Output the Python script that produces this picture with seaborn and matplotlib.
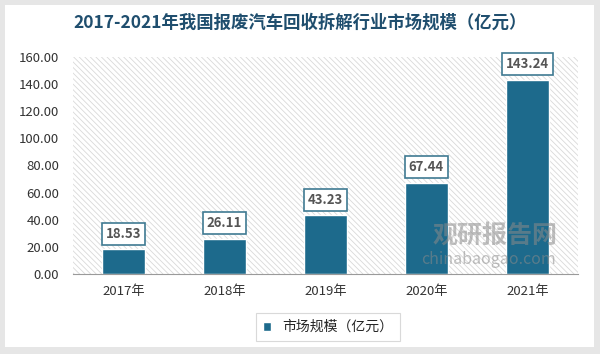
"""2017-2021 scrapped-car recycling market size bar chart."""
import pandas as pd
import matplotlib
matplotlib.use("Agg")
import matplotlib.pyplot as plt
from matplotlib.patches import Rectangle
import seaborn as sns

years = ["2017年", "2018年", "2019年", "2020年", "2021年"]
market_size = [18.53, 26.11, 43.23, 67.44, 143.24]
series_name = "市场规模（亿元）"
title = "2017-2021年我国报废汽车回收拆解行业市场规模（亿元）"

bar_color = "#1d6a8c"
title_color = "#1f4e6e"

sns.set_style("white")
plt.rcParams["font.family"] = ["Noto Sans CJK SC", "DejaVu Sans"]
plt.rcParams["hatch.linewidth"] = 0.6

df = pd.DataFrame({"year": years, "value": market_size})

fig = plt.figure(figsize=(6, 3.54), dpi=100)
fig.patch.set_facecolor("#e6e6e6")
fig.add_artist(Rectangle((0.008, 0.02), 0.982, 0.965, transform=fig.transFigure,
                         facecolor="white", edgecolor="none", zorder=-5))

ax = fig.add_axes([0.122, 0.226, 0.841, 0.613])
ax.set_facecolor("none")
ax.set_zorder(1)

# hatched background of the plot area
ax.add_patch(Rectangle((0, 0), 1, 1, transform=ax.transAxes, facecolor="white",
                       edgecolor="#d9d9d9", hatch="\\\\\\\\\\\\", linewidth=0, zorder=0))

sns.barplot(df, x="year", y="value", color=bar_color, width=0.42,
            label=series_name, ax=ax, zorder=2, saturation=1)

ax.set_ylim(0, 160)
ax.set_yticks(range(0, 161, 20))
ax.set_yticklabels([f"{v:.2f}" for v in range(0, 161, 20)])
ax.set_xlabel("")
ax.set_ylabel("")
ax.tick_params(axis="both", length=0, labelsize=9.5, colors="#333333")
ax.tick_params(axis="x", pad=8)
ax.tick_params(axis="y", pad=10)
for side in ["left", "right", "top"]:
    ax.spines[side].set_visible(False)
ax.spines["bottom"].set_color("#9a9a9a")
ax.spines["bottom"].set_linewidth(0.8)

for i, v in enumerate(market_size):
    ax.annotate(f"{v:.2f}", (i, v), xytext=(0, 11), textcoords="offset points",
                ha="center", va="center", fontsize=9.5, fontweight="bold", color="#555555",
                bbox=dict(boxstyle="square,pad=0.3", facecolor="white",
                          edgecolor="#3f7a92", linewidth=1.2), zorder=5)

# watermark
fig.text(0.825, 0.335, "观研报告网", fontsize=18, fontweight="bold", color="#8a8a8a",
         alpha=0.55, ha="center", va="center", zorder=10)
fig.text(0.815, 0.268, "chinabaogao.com", fontsize=11.5, color="#8a8a8a",
         alpha=0.55, ha="center", va="center", zorder=10)

fig.text(0.5, 0.937, title, fontsize=12.5, fontweight="bold", color=title_color,
         ha="center", va="center")

handles, labels = ax.get_legend_handles_labels()
leg = ax.legend(handles, labels, loc="center", bbox_to_anchor=(0.505, -0.245),
                frameon=True, fontsize=10, handlelength=0.6, handleheight=0.6,
                fancybox=False, edgecolor="#d0d0d0", borderpad=0.5)
leg.get_frame().set_linewidth(0.8)

fig.savefig("out.png", dpi=100)
